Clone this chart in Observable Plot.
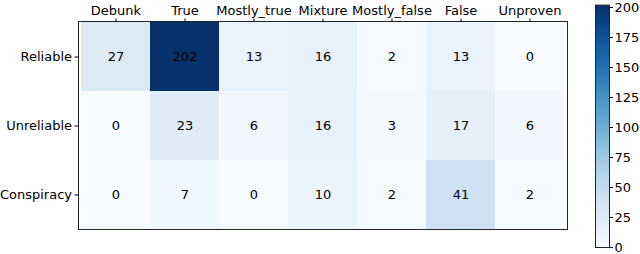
<!DOCTYPE html>
<html><head><meta charset="utf-8">
<script src="https://cdn.jsdelivr.net/npm/d3@7"></script>
<script src="https://cdn.jsdelivr.net/npm/@observablehq/plot@0.6"></script>
<style>
body{margin:0;background:#fff}
#wrap{position:relative;width:640px;height:254px}
#wrap svg{position:absolute;left:0;top:0}
</style>
</head><body><div id="wrap"></div>
<script>
const columns = ["Debunk","True","Mostly_true","Mixture","Mostly_false","False","Unproven"];
const rows = ["Reliable","Unreliable","Conspiracy"];
const reliable = [27,202,13,16,2,13,0];
const unreliable = [0,23,6,16,3,17,6];
const conspiracy = [0,7,0,10,2,41,2];
const colorTicks = [0,25,50,75,100,125,150,175,200];
const colorMax = 202;

const series = [reliable, unreliable, conspiracy];
const cells = [];
rows.forEach((r, i) => columns.forEach((c, j) => cells.push({row: r, col: c, value: series[i][j]})));

const font = {fontFamily: "DejaVu Sans", fontSize: "13px", color: "black", background: "transparent", overflow: "visible"};
const color = {type: "linear", scheme: "blues", domain: [0, colorMax]};

const main = Plot.plot({
  width: 640, height: 254,
  marginLeft: 78, marginRight: 73, marginTop: 21, marginBottom: 25,
  style: font,
  x: {type: "band", domain: columns, padding: 0, axis: null},
  y: {type: "band", domain: rows, padding: 0, axis: null},
  color,
  marks: [
    Plot.cell(cells, {x: "col", y: "row", fill: "value", inset: 0}),
    Plot.text(cells, {x: "col", y: "row", text: d => String(d.value), fill: "black", fontSize: 13}),
    Plot.frame({stroke: "#222", strokeWidth: 1}),
    Plot.axisX({anchor: "top", tickSize: 3.5, tickPadding: 3, label: null, fontSize: 13}),
    Plot.axisY({anchor: "left", tickSize: 3.5, tickPadding: 3, label: null, fontSize: 13})
  ]
});

const bar = Plot.plot({
  width: 640, height: 254,
  marginLeft: 595, marginRight: 31, marginTop: 4.6, marginBottom: 7,
  style: font,
  x: {domain: [0, 1], axis: null},
  y: {domain: [0, colorMax], axis: null},
  color,
  marks: [
    Plot.raster({x1: 0, x2: 1, y1: 0, y2: colorMax, fill: (x, y) => y, width: 4, height: 242}),
    Plot.frame({stroke: "#222", strokeWidth: 1}),
    Plot.axisY({anchor: "right", ticks: colorTicks, tickSize: 3, tickPadding: 2, label: null, fontSize: 13})
  ]
});

document.getElementById("wrap").append(main, bar);
</script>
</body></html>
